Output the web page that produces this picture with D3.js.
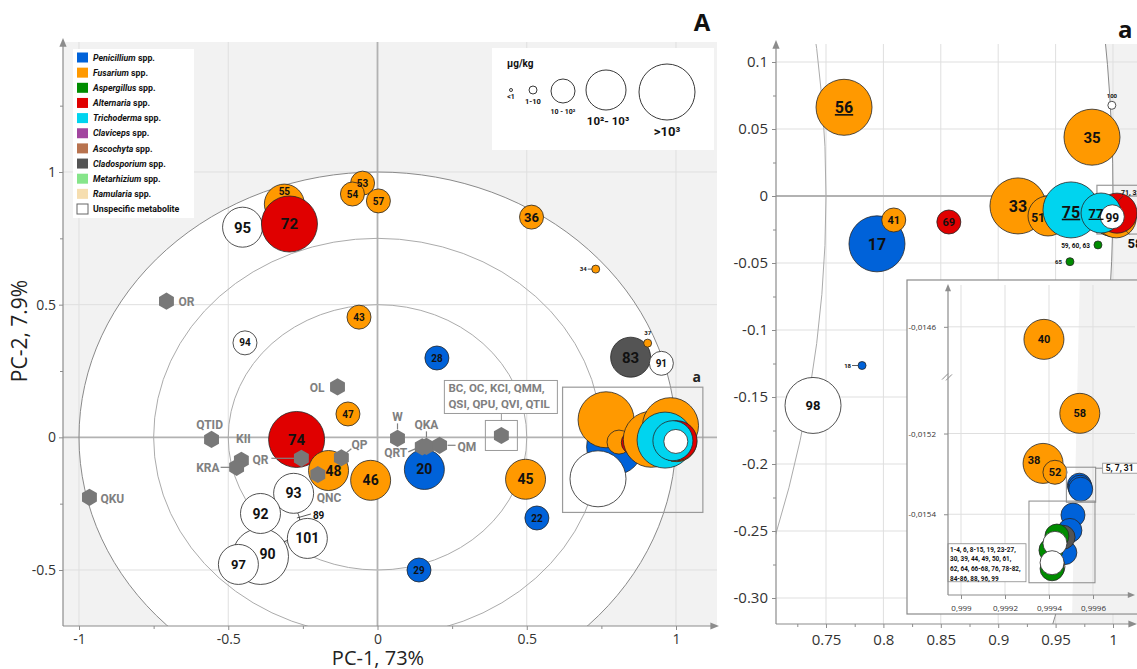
<!DOCTYPE html>
<html>
<head>
<meta charset="utf-8">
<script src="https://cdn.jsdelivr.net/npm/d3@7"></script>
<style>
body { margin: 0; background: #fff; }
svg text { font-family: "Open Sans", "DejaVu Sans", sans-serif; }
.lab { font-family: Roboto, "Open Sans", sans-serif; }
</style>
</head>
<body>
<script>
var width = 1137, height = 669;

// legend groups and their colours
var genera = ["Penicillium", "Fusarium", "Aspergillus", "Alternaria", "Trichoderma", "Claviceps",
  "Ascochyta", "Cladosporium", "Metarhizium", "Ramularia", "Unspecific"];
var generaColors = ["#0062d9", "#ff9900", "#008c00", "#e00000", "#00d4ef", "#a2459f",
  "#b8734f", "#545454", "#86e58a", "#f6deb0", "#ffffff"];

// concentration classes, µg/kg
var sizeClasses = ["<1", "1-10", "10 - 10²", "10²- 10³", ">10³"];

// metabolites in drawing order: id, genus, concentration class, PC-1, PC-2, zone
// zone: m = main plot, a = zoomed area a, i = inset of area a
var metabolites = [
  ["53", "Fusarium", 2, -0.050, 0.958, "m"],
  ["54", "Fusarium", 2, -0.084, 0.917, "m"],
  ["57", "Fusarium", 2, 0.003, 0.891, "m"],
  ["55", "Fusarium", 3, -0.312, 0.879, "m"],
  ["95", "Unspecific", 3, -0.452, 0.792, "m"],
  ["72", "Alternaria", 4, -0.295, 0.804, "m"],
  ["36", "Fusarium", 2, 0.516, 0.830, "m"],
  ["34", "Fusarium", 1, 0.731, 0.634, "m"],
  ["43", "Fusarium", 2, -0.062, 0.453, "m"],
  ["94", "Unspecific", 2, -0.444, 0.356, "m"],
  ["28", "Penicillium", 2, 0.199, 0.299, "m"],
  ["47", "Fusarium", 2, -0.099, 0.088, "m"],
  ["74", "Alternaria", 4, -0.271, -0.008, "m"],
  ["48", "Fusarium", 3, -0.164, -0.125, "m"],
  ["46", "Fusarium", 3, -0.023, -0.162, "m"],
  ["20", "Penicillium", 3, 0.157, -0.121, "m"],
  ["45", "Fusarium", 3, 0.496, -0.158, "m"],
  ["22", "Penicillium", 2, 0.534, -0.304, "m"],
  ["29", "Penicillium", 2, 0.139, -0.500, "m"],
  ["89", "Unspecific", 3, -0.327, -0.319, "m"],
  ["93", "Unspecific", 3, -0.281, -0.211, "m"],
  ["90", "Unspecific", 4, -0.392, -0.449, "m"],
  ["92", "Unspecific", 3, -0.392, -0.287, "m"],
  ["97", "Unspecific", 3, -0.466, -0.479, "m"],
  ["101", "Unspecific", 3, -0.235, -0.381, "m"],
  ["83", "Cladosporium", 3, 0.848, 0.302, "m"],
  ["37", "Fusarium", 1, 0.905, 0.355, "m"],
  ["91", "Unspecific", 2, 0.951, 0.279, "m"],
  ["17", "Penicillium", 4, 0.7944, -0.0357, "a"],
  ["18", "Penicillium", 1, 0.7814, -0.1265, "a"],
  ["98", "Unspecific", 4, 0.7387, -0.1563, "a"],
  ["56", "Fusarium", 4, 0.7657, 0.0662, "a"],
  ["41", "Fusarium", 2, 0.809, -0.0179, "a"],
  ["69", "Alternaria", 2, 0.857, -0.0194, "a"],
  ["33", "Fusarium", 4, 0.9172, -0.0074, "a"],
  ["51", "Fusarium", 3, 0.9434, -0.0149, "a"],
  ["35", "Fusarium", 4, 0.9817, 0.0439, "a"],
  ["100", "Unspecific", 1, 0.999, 0.0677, "a"],
  ["59, 60, 63", "Aspergillus", 1, 0.9869, -0.0365, "a"],
  ["65", "Aspergillus", 1, 0.9625, -0.049, "a"],
  ["75", "Trichoderma", 4, 0.9634, -0.0104, "a"],
  ["40", "Fusarium", 3, 0.999377, -0.01463, "i"],
  ["58", "Fusarium", 3, 0.99954, -0.01515, "i"],
  ["38", "Fusarium", 3, 0.999373, -0.015274, "i"],
  ["52", "Fusarium", 2, 0.999427, -0.015296, "i"],
  ["5", "Penicillium", 2, 0.999538, -0.015328, "i"],
  ["7", "Penicillium", 2, 0.999541, -0.015333, "i"],
  ["31", "Penicillium", 2, 0.999544, -0.015338, "i"],
  ["3", "Penicillium", 2, 0.999472, -0.015495, "i"],
  ["1", "Penicillium", 2, 0.999509, -0.015402, "i"],
  ["2", "Penicillium", 2, 0.999495, -0.01544, "i"],
  ["84", "Cladosporium", 2, 0.999464, -0.015457, "i"],
  ["61", "Aspergillus", 2, 0.999436, -0.015454, "i"],
  ["62", "Aspergillus", 2, 0.999409, -0.015489, "i"],
  ["96", "Unspecific", 2, 0.999427, -0.015472, "i"],
  ["88", "Ramularia", 2, 0.999418, -0.01553, "i"],
  ["64", "Aspergillus", 2, 0.999414, -0.015535, "i"],
  ["32", "Fusarium", 3, 1.0028, -0.0163, "a"],
  ["71", "Alternaria", 3, 1.0035, -0.0128, "a"],
  ["77", "Trichoderma", 3, 0.9896, -0.0127, "a"],
  ["99", "Unspecific", 2, 0.999414, -0.01552, "i"]
];

// loadings of the quality parameters (grey hexagons): name, PC-1, PC-2
var loadings = [
  ["OR", -0.707, 0.513],
  ["OL", -0.134, 0.190],
  ["QTID", -0.556, -0.008],
  ["KII", -0.456, -0.087],
  ["KRA", -0.472, -0.113],
  ["QR", -0.255, -0.079],
  ["QP", -0.121, -0.077],
  ["QNC", -0.200, -0.140],
  ["W", 0.067, -0.004],
  ["QRT", 0.150, -0.036],
  ["QKA", 0.164, -0.034],
  ["QM", 0.208, -0.030],
  ["BC, OC, KCI, QMM,|QSI, QPU, QVI, QTIL", 0.415, 0.007],
  ["QKU", -0.965, -0.226]
];

// ticks
var xTicksL = [-1, -0.5, 0, 0.5, 1], xTickLabelsL = ["-1", "-0.5", "0", "0.5", "1"];
var yTicksL = [-0.5, 0, 0.5, 1], yTickLabelsL = ["-0.5", "0", "0.5", "1"];
var xMinorL = [-0.75, -0.25, 0.25, 0.75], yMinorL = [-0.25, 0.25, 0.75, 1.25];
var xTicksR = [0.75, 0.8, 0.85, 0.9, 0.95, 1], xTickLabelsR = ["0.75", "0.8", "0.85", "0.9", "0.95", "1"];
var yTicksR = [0.1, 0.05, 0, -0.05, -0.1, -0.15, -0.2, -0.25, -0.3];
var yTickLabelsR = ["0.1", "0.05", "0", "-0.05", "-0.1", "-0.15", "-0.2", "-0.25", "-0.30"];
var xMinorR = [0.725, 0.775, 0.825, 0.875, 0.925, 0.975];
var yMinorR = [0.075, 0.025, -0.025, -0.075, -0.125, -0.175, -0.225, -0.275];
var xTicksI = [0.999, 0.9992, 0.9994, 0.9996], xTickLabelsI = ["0,999", "0,9992", "0,9994", "0,9996"];
var yTicksI = [-0.0146, -0.0152, -0.0154], yTickLabelsI = ["-0,0146", "-0,0152", "-0,0154"];

// ---------------------------------------------------------------------------
var svg = d3.select("body").append("svg").attr("width", width).attr("height", height);
var defs = svg.append("defs");

var gridColor = "#dfdfdf", zeroColor = "#b2b2b2", axisColor = "#8c8c8c";

var xL = d3.scaleLinear().domain([-1, 1]).range([79, 676]);
var yL = d3.scaleLinear().domain([-0.5, 1]).range([570, 172]);
var xR = d3.scaleLinear().domain([0.75, 1]).range([826, 1113]);
var yR = d3.scaleLinear().domain([-0.3, 0.1]).range([598, 62]);
var xI = d3.scaleLinear().domain([0.999, 0.9996]).range([961, 1093]);
// broken axis in the inset
var yI = d3.scaleLinear().domain([-0.0156, -0.01506, -0.01472, -0.0145]).range([595, 377, 377, 285]);
var rScale = d3.scaleOrdinal().domain([0, 1, 2, 3, 4]).range([1.5, 4, 12, 20, 28]);
var color = d3.scaleOrdinal().domain(genera).range(generaColors);

var leftBox = {x0: 63, x1: 717, y0: 42, y1: 626};
var rightBox = {x0: 776, x1: 1137, y0: 44, y1: 624};
var insetBox = {x0: 907, x1: 1150, y0: 280, y1: 614};

function clipRect(id, b) {
  defs.append("clipPath").attr("id", id).append("rect")
    .attr("x", b.x0).attr("y", b.y0).attr("width", b.x1 - b.x0).attr("height", b.y1 - b.y0);
  return "url(#" + id + ")";
}
var clipL = clipRect("clipL", leftBox);
var clipR = clipRect("clipR", rightBox);
var clipI = clipRect("clipI", {x0: insetBox.x0 + 1, x1: 1137, y0: insetBox.y0 + 1, y1: insetBox.y1 - 1});

function drawFrame(box, xs, ys, clip, xTicks, yTicks, radii) {
  var g = svg.append("g").attr("clip-path", clip);
  g.append("rect").attr("x", box.x0).attr("y", box.y0)
    .attr("width", box.x1 - box.x0).attr("height", box.y1 - box.y0).attr("fill", "#f2f2f2");
  g.append("ellipse").attr("cx", xs(0)).attr("cy", ys(0))
    .attr("rx", xs(1) - xs(0)).attr("ry", ys(0) - ys(1)).attr("fill", "#fff");
  g.selectAll(".vg").data(xTicks).join("line")
    .attr("x1", d => xs(d)).attr("x2", d => xs(d)).attr("y1", box.y0).attr("y2", box.y1)
    .attr("stroke", d => d === 0 ? zeroColor : gridColor).attr("stroke-width", d => d === 0 ? 1.8 : 1);
  g.selectAll(".hg").data(yTicks).join("line")
    .attr("y1", d => ys(d)).attr("y2", d => ys(d)).attr("x1", box.x0).attr("x2", box.x1)
    .attr("stroke", d => d === 0 ? zeroColor : gridColor).attr("stroke-width", d => d === 0 ? 1.8 : 1);
  g.selectAll(".cc").data(radii).join("ellipse")
    .attr("cx", xs(0)).attr("cy", ys(0))
    .attr("rx", d => (xs(1) - xs(0)) * d).attr("ry", d => (ys(0) - ys(1)) * d)
    .attr("fill", "none").attr("stroke", d => d === 1 ? "#8a8a8a" : "#ababab").attr("stroke-width", 1);
  return g;
}

function arrowAxes(box, xEnd, yTop, sz) {
  var g = svg.append("g").attr("fill", axisColor).attr("stroke", axisColor);
  g.append("line").attr("x1", box.x0).attr("y1", box.y1).attr("x2", xEnd - 3).attr("y2", box.y1).attr("stroke-width", 1.2);
  g.append("line").attr("x1", box.x0).attr("y1", box.y1).attr("x2", box.x0).attr("y2", yTop + 3).attr("stroke-width", 1.2);
  g.append("path").attr("stroke", "none")
    .attr("d", "M" + xEnd + "," + box.y1 + "l" + (-2.4 * sz) + "," + (-sz) + "l0," + (2 * sz) + "z");
  g.append("path").attr("stroke", "none")
    .attr("d", "M" + box.x0 + "," + yTop + "l" + (-sz) + "," + (2.4 * sz) + "l" + (2 * sz) + ",0z");
}

function tickAxes(box, xs, ys, xT, xLab, xM, yT, yLab, yM, fs, pad) {
  var g = svg.append("g");
  g.append("g").attr("transform", "translate(0," + box.y1 + ")")
    .call(d3.axisBottom(xs).tickValues(xT).tickFormat((d, i) => xLab[i]).tickSize(4).tickPadding(pad[0]));
  g.append("g").attr("transform", "translate(" + box.x0 + ",0)")
    .call(d3.axisLeft(ys).tickValues(yT).tickFormat((d, i) => yLab[i]).tickSize(4).tickPadding(pad[1]));
  if (xM) g.append("g").attr("transform", "translate(0," + box.y1 + ")")
    .call(d3.axisBottom(xs).tickValues(xM).tickFormat("").tickSize(3));
  if (yM) g.append("g").attr("transform", "translate(" + box.x0 + ",0)")
    .call(d3.axisLeft(ys).tickValues(yM).tickFormat("").tickSize(3));
  g.selectAll(".domain").remove();
  g.selectAll(".tick line").attr("stroke", axisColor);
  g.selectAll(".tick text").attr("font-size", fs).attr("fill", "#333")
    .attr("font-family", "'Open Sans', sans-serif");
  return g;
}

function drawBubbles(g, xs, ys) {
  g.selectAll("circle.bub").data(metabolites).join("circle").attr("class", "bub")
    .attr("cx", d => xs(d[3])).attr("cy", d => ys(d[4])).attr("r", d => rScale(d[2]))
    .attr("fill", d => color(d[1])).attr("stroke", "#262626").attr("stroke-width", 0.8);
}

function drawLabels(g, xs, ys, styles) {
  metabolites.forEach(function (d) {
    var st = styles[d[0]];
    if (!st) return;
    var cx = xs(d[3]), cy = ys(d[4]);
    if (st.lead) g.append("line")
      .attr("x1", cx + st.lead[0]).attr("y1", cy + st.lead[1])
      .attr("x2", cx + st.lead[2]).attr("y2", cy + st.lead[3])
      .attr("stroke", "#333").attr("stroke-width", 0.8);
    g.append("text").attr("class", "lab")
      .attr("x", cx + (st.dx || 0)).attr("y", cy + (st.dy || 0) + st.s * 0.36)
      .attr("text-anchor", st.a || "middle").attr("font-size", st.s)
      .attr("font-weight", "bold").attr("fill", "#111")
      .attr("text-decoration", st.u ? "underline" : null)
      .text(st.t || d[0]);
  });
}

// ---------------- left panel (A) ----------------
drawFrame(leftBox, xL, yL, clipL, xTicksL, yTicksL, [0.5, 0.75, 1]);
arrowAxes(leftBox, 719, 38, 3.6);
tickAxes(leftBox, xL, yL, xTicksL, xTickLabelsL, xMinorL, yTicksL, yTickLabelsL, yMinorL, 14, [4, 3]);

// box marking the zoomed area a
var boxA = svg.append("g");
boxA.append("rect").attr("x", xL(0.62)).attr("y", yL(0.189))
  .attr("width", xL(1.09) - xL(0.62)).attr("height", yL(-0.283) - yL(0.189))
  .attr("fill", "none").attr("stroke", "#9a9a9a").attr("stroke-width", 1.2);
boxA.append("text").attr("x", xL(1.09) - 2).attr("y", yL(0.189) - 5).attr("text-anchor", "end")
  .attr("font-size", 14).attr("font-weight", "bold").attr("fill", "#222").text("a");

var gL = svg.append("g");
drawBubbles(gL, xL, yL);

var leftLabels = {
  "53": {s: 10}, "54": {s: 10}, "57": {s: 10}, "55": {s: 10, dy: -13},
  "95": {s: 15}, "72": {s: 15}, "36": {s: 13},
  "34": {s: 6, a: "end", dx: -9, lead: [-8, 0, -4, 0]},
  "43": {s: 10}, "94": {s: 10}, "28": {s: 10}, "47": {s: 10}, "74": {s: 15},
  "48": {s: 14, dx: 5}, "46": {s: 14}, "20": {s: 14}, "45": {s: 14}, "22": {s: 10}, "29": {s: 10},
  "89": {s: 10, a: "start", dx: 33, dy: -7, lead: [17, -4, 31, -8]},
  "93": {s: 14}, "92": {s: 14}, "101": {s: 14}, "90": {s: 14, dx: 7, dy: -3}, "97": {s: 13},
  "83": {s: 15}, "37": {s: 6, dy: -10}, "91": {s: 10}
};
drawLabels(gL, xL, yL, leftLabels);

// loadings
var hexLabels = {
  "OR": {dx: 12, dy: 0, a: "start"},
  "OL": {dx: -13, dy: 1, a: "end"},
  "QTID": {dx: -2, dy: -15, a: "middle"},
  "KII": {dx: 2, dy: -22, a: "middle"},
  "KRA": {dx: -17, dy: 0, a: "end", lead: [-16, 0, -6, 0]},
  "QR": {dx: -33, dy: 1, a: "end", lead: [-30, 0, -6, 0]},
  "QP": {dx: 10, dy: -13, a: "start", lead: [5, -5, 10, -9]},
  "QNC": {dx: -1, dy: 23, a: "start"},
  "W": {dx: 0, dy: -22, a: "middle", lead: [0, -9, 0, -15]},
  "QRT": {dx: -15, dy: 6, a: "end", lead: [-7, 2, -14, 5]},
  "QKA": {dx: 0, dy: -22, a: "middle", lead: [0, -9, 0, -15]},
  "QM": {dx: 18, dy: 1, a: "start", lead: [8, 0, 16, 0]},
  "QKU": {dx: 11, dy: 1, a: "start"}
};
var hexColor = "#787878", hexTextColor = "#808080";
var hexPath = (function (r) {
  var p = d3.path();
  for (var k = 0; k < 6; k++) {
    var a = Math.PI / 3 * k - Math.PI / 2;
    if (k === 0) p.moveTo(r * Math.cos(a), r * Math.sin(a)); else p.lineTo(r * Math.cos(a), r * Math.sin(a));
  }
  p.closePath();
  return p.toString();
})(8.6);

var gH = svg.append("g");
loadings.forEach(function (d) {
  var st = hexLabels[d[0]], hx = xL(d[1]), hy = yL(d[2]);
  if (st && st.lead) gH.append("line")
    .attr("x1", hx + st.lead[0]).attr("y1", hy + st.lead[1])
    .attr("x2", hx + st.lead[2]).attr("y2", hy + st.lead[3])
    .attr("stroke", hexTextColor).attr("stroke-width", 1.2);
});
gH.selectAll("path.hex").data(loadings).join("path").attr("class", "hex")
  .attr("transform", d => "translate(" + xL(d[1]) + "," + yL(d[2]) + ")")
  .attr("d", hexPath).attr("fill", hexColor);
loadings.forEach(function (d) {
  var st = hexLabels[d[0]], hx = xL(d[1]), hy = yL(d[2]);
  if (st) {
    gH.append("text").attr("class", "lab").attr("x", hx + st.dx).attr("y", hy + st.dy + 4.3)
      .attr("text-anchor", st.a).attr("font-size", 12).attr("font-weight", "bold")
      .attr("fill", hexTextColor).text(d[0]);
  } else {
    // group of overlapping loadings with a boxed label
    var lines = d[0].split("|");
    gH.append("rect").attr("x", hx - 16).attr("y", hy - 15).attr("width", 32).attr("height", 30)
      .attr("fill", "none").attr("stroke", "#9a9a9a");
    gH.append("line").attr("x1", hx).attr("x2", hx).attr("y1", hy - 15).attr("y2", hy - 22)
      .attr("stroke", "#9a9a9a");
    gH.append("rect").attr("x", hx - 57).attr("y", hy - 55).attr("width", 113).attr("height", 33)
      .attr("fill", "#fff").attr("stroke", "#9a9a9a");
    lines.forEach(function (t, i) {
      gH.append("text").attr("class", "lab").attr("x", hx - 53).attr("y", hy - 43 + i * 16)
        .attr("font-size", 11.5).attr("font-weight", "bold").attr("fill", hexTextColor).text(t);
    });
  }
});

// legend of genera
var legend = svg.append("g");
legend.append("rect").attr("x", 73).attr("y", 49).attr("width", 121).attr("height", 169).attr("fill", "#fff");
genera.forEach(function (name, i) {
  var y = 57.5 + i * 15.15;
  legend.append("rect").attr("x", 77).attr("y", y - 5).attr("width", 11).attr("height", 10)
    .attr("fill", color(name)).attr("stroke", name === "Unspecific" ? "#666" : "none");
  var t = legend.append("text").attr("class", "lab").attr("x", 93).attr("y", y + 3.2)
    .attr("font-size", 8.8).attr("font-weight", "bold").attr("fill", "#111");
  if (name === "Unspecific") t.text("Unspecific metabolite");
  else {
    t.append("tspan").attr("font-style", "italic").text(name);
    t.append("tspan").text(" spp.");
  }
});

// legend of concentrations
var sizeLeg = svg.append("g");
sizeLeg.append("rect").attr("x", 492).attr("y", 48).attr("width", 222).attr("height", 102).attr("fill", "#fff");
sizeLeg.append("text").attr("class", "lab").attr("x", 507).attr("y", 67).attr("font-size", 10)
  .attr("font-weight", "bold").attr("fill", "#111").text("µg/kg");
var legX = [511, 533, 563, 606, 667], legY = [90, 90, 91, 90, 92];
var legTextY = [99, 104, 114, 125, 136], legFont = [7, 7.5, 7, 11.5, 13];
sizeClasses.forEach(function (c, i) {
  sizeLeg.append("circle").attr("cx", legX[i]).attr("cy", legY[i]).attr("r", rScale(i))
    .attr("fill", "#fff").attr("stroke", "#222").attr("stroke-width", 0.9);
  sizeLeg.append("text").attr("class", "lab").attr("x", legX[i] + (i === 3 ? 2 : 0)).attr("y", legTextY[i])
    .attr("text-anchor", "middle").attr("font-size", legFont[i]).attr("font-weight", "bold")
    .attr("fill", "#111").text(c);
});

svg.append("text").attr("x", 702).attr("y", 31).attr("text-anchor", "middle")
  .attr("font-size", 24).attr("font-weight", "bold").attr("fill", "#111").text("A");
svg.append("text").attr("x", 378).attr("y", 665).attr("text-anchor", "middle")
  .attr("font-size", 20).attr("fill", "#222").text("PC-1, 73%");
svg.append("text").attr("transform", "translate(27,331) rotate(-90)").attr("text-anchor", "middle")
  .attr("font-size", 21).attr("fill", "#222").text("PC-2, 7.9%");

// ---------------- right panel (a) ----------------
drawFrame(rightBox, xR, yR, clipR, xTicksR, yTicksR, [0.75, 1]);
arrowAxes(rightBox, 1137, 40, 3.6);
tickAxes(rightBox, xR, yR, xTicksR, xTickLabelsR, xMinorR, yTicksR, yTickLabelsR, yMinorR, 15, [6, 4]);

// box marking the inset region
svg.append("rect").attr("x", xR(0.986)).attr("y", yR(0.008))
  .attr("width", 60).attr("height", yR(-0.0284) - yR(0.008))
  .attr("fill", "none").attr("stroke", "#9a9a9a").attr("stroke-width", 1.2);

var gR = svg.append("g").attr("clip-path", clipR);
drawBubbles(gR, xR, yR);
var rightLabels = {
  "56": {s: 16, u: 1}, "35": {s: 15}, "17": {s: 16}, "41": {s: 11}, "69": {s: 11},
  "33": {s: 16}, "51": {s: 12, dx: -10, dy: 2}, "75": {s: 16, u: 1, dy: 2},
  "77": {s: 13, u: 1, dx: -5}, "99": {s: 12, dy: 1}, "98": {s: 13},
  "100": {s: 6, dy: -9},
  "18": {s: 6, a: "end", dx: -11, lead: [-10, 0, -4, 0]},
  "59, 60, 63": {s: 6.5, a: "end", dx: -8, dy: 1},
  "65": {s: 6, a: "end", dx: -8},
  "71": {t: "71, 32", s: 7, a: "start", dx: 4, dy: -21, lead: [6, -17, 2, -13]},
  "58": {s: 13, a: "start", dx: 15, dy: 27, lead: [13, 14, 17, 18]}
};
drawLabels(gR, xR, yR, rightLabels);

svg.append("text").attr("x", 1118).attr("y", 38).attr("font-size", 24)
  .attr("font-weight", "bold").attr("fill", "#111").text("a");

// ---------------- inset ----------------
var gI = svg.append("g");
gI.append("rect").attr("x", insetBox.x0).attr("y", insetBox.y0)
  .attr("width", insetBox.x1 - insetBox.x0).attr("height", insetBox.y1 - insetBox.y0)
  .attr("fill", "#fff").attr("stroke", "#8a8a8a").attr("stroke-width", 1.2);
var gIc = gI.append("g").attr("clip-path", clipI);
gIc.append("path").attr("fill", "#f2f2f2")
  .attr("d", "M" + xI(0.99954) + "," + insetBox.y0 + "L1140," + insetBox.y0 + "L1140," + insetBox.y1 +
    "L" + xI(0.999505) + "," + insetBox.y1 + "Z");
gIc.selectAll(".ivg").data(xTicksI).join("line")
  .attr("x1", d => xI(d)).attr("x2", d => xI(d)).attr("y1", 285).attr("y2", 595)
  .attr("stroke", gridColor);
gIc.selectAll(".ihg").data(yTicksI).join("line")
  .attr("y1", d => yI(d)).attr("y2", d => yI(d)).attr("x1", 948).attr("x2", 1135)
  .attr("stroke", gridColor);
var insetAxisBox = {x0: 948, x1: 1133, y0: 285, y1: 595};
arrowAxes(insetAxisBox, 1135, 284, 3);
tickAxes(insetAxisBox, xI, yI, xTicksI, xTickLabelsI, null, yTicksI, yTickLabelsI, null, 8, [6, 8]);
// axis break
gI.append("rect").attr("x", 944).attr("y", yI(-0.0149) - 2).attr("width", 9).attr("height", 4).attr("fill", "#fff");
[-2, 2].forEach(function (o) {
  gI.append("line").attr("x1", 944 + o).attr("y1", yI(-0.0149) + 3 + o * 0.2)
    .attr("x2", 950 + o).attr("y2", yI(-0.0149) - 3 + o * 0.2)
    .attr("stroke", axisColor).attr("stroke-width", 1);
});

var gIb = gI.append("g").attr("clip-path", clipI);
drawBubbles(gIb, xI, yI);
drawLabels(gIb, xI, yI, {"40": {s: 11}, "58": {s: 11}, "38": {s: 11, dx: -9, dy: -3}, "52": {s: 11}});

// boxes around overlapping groups inside the inset
function groupBox(ids, pad) {
  var pts = metabolites.filter(d => ids.indexOf(d[0]) >= 0);
  var x0 = d3.min(pts, d => xI(d[3]) - rScale(d[2])) - pad[0];
  var x1 = d3.max(pts, d => xI(d[3]) + rScale(d[2])) + pad[1];
  var y0 = d3.min(pts, d => yI(d[4]) - rScale(d[2])) - pad[2];
  var y1 = d3.max(pts, d => yI(d[4]) + rScale(d[2])) + pad[3];
  gI.append("rect").attr("x", x0).attr("y", y0).attr("width", x1 - x0).attr("height", y1 - y0)
    .attr("fill", "none").attr("stroke", "#8a8a8a").attr("stroke-width", 1);
  return {x0: x0, x1: x1, y0: y0, y1: y1};
}
var b1 = groupBox(["5", "7", "31"], [1, 3, 6, 1]);
gI.append("line").attr("x1", b1.x1).attr("y1", b1.y0 + 1).attr("x2", b1.x1 + 7).attr("y2", b1.y0 + 1)
  .attr("stroke", "#8a8a8a");
gI.append("rect").attr("x", b1.x1 + 7).attr("y", b1.y0 - 4).attr("width", 36).attr("height", 10)
  .attr("fill", "#fff").attr("stroke", "#8a8a8a").attr("stroke-width", 0.8);
gI.append("text").attr("class", "lab").attr("x", b1.x1 + 10).attr("y", b1.y0 + 4).attr("font-size", 8.5)
  .attr("font-weight", "bold").attr("fill", "#111").text("5, 7, 31");

var b2 = groupBox(["1", "2", "3", "84", "61", "62", "96", "88", "64", "99"], [10, 10, 2, 2]);
var groupText = ["1-4, 6, 8-15, 19, 23-27,", "30, 39, 44, 49, 50, 61,", "62, 64, 66-68, 76, 78-82,", "84-86, 88, 96, 99"];
gI.append("rect").attr("x", b2.x0 - 81).attr("y", b2.y1 - 39).attr("width", 78).attr("height", 38)
  .attr("fill", "#fff").attr("stroke", "#8a8a8a").attr("stroke-width", 0.8);
groupText.forEach(function (t, i) {
  gI.append("text").attr("class", "lab").attr("x", b2.x0 - 79).attr("y", b2.y1 - 31 + i * 9.7)
    .attr("font-size", 6.4).attr("font-weight", "bold").attr("fill", "#111").text(t);
});
</script>
</body>
</html>
